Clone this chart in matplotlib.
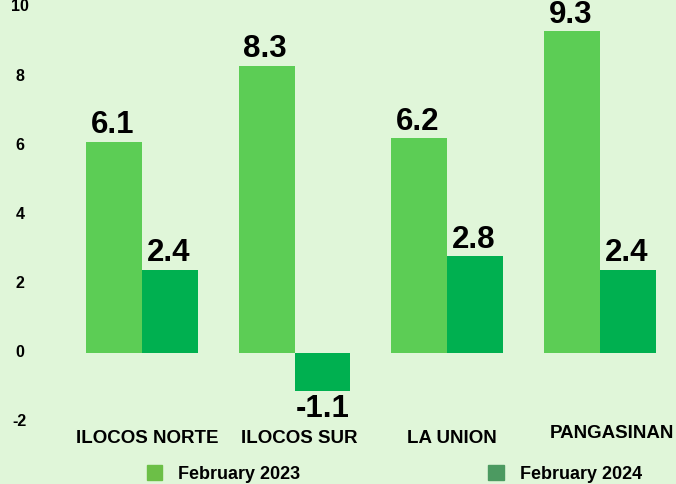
import matplotlib.pyplot as plt
from matplotlib.patches import Patch
import numpy as np

plt.rcParams['font.family'] = ['Liberation Sans', 'DejaVu Sans']
plt.rcParams['font.weight'] = 'bold'

provinces = ['ILOCOS NORTE', 'ILOCOS SUR', 'LA UNION', 'PANGASINAN']
feb_2023 = [6.1, 8.3, 6.2, 9.3]
feb_2024 = [2.4, -1.1, 2.8, 2.4]
series_names = ['February 2023', 'February 2024']
y_ticks = [-2, 0, 2, 4, 6, 8, 10]

bg = '#e0f6d9'
light = '#5ccd55'
dark = '#00b050'

fig = plt.figure(figsize=(6.76, 4.84), dpi=100, facecolor=bg)
ax = fig.add_axes([0.0, 0.114, 1.0, 0.886], facecolor=bg)

x = np.arange(len(provinces))
w = 0.366
b1 = ax.bar(x - w / 2, feb_2023, w, color=light)
b2 = ax.bar(x + w / 2, feb_2024, w, color=dark)

# value labels above / below bars
for bars, vals in ((b1, feb_2023), (b2, feb_2024)):
    for r, v in zip(bars, vals):
        cx = r.get_x() + r.get_width() / 2
        if v >= 0:
            ax.annotate(f'{v:.1f}', (cx, v), xytext=(-1, 6), textcoords='offset points',
                        ha='center', va='baseline', fontsize=22.5, fontweight='bold',
                        annotation_clip=False)
        else:
            ax.annotate(f'{v:.1f}', (cx, v), xytext=(0, -2), textcoords='offset points',
                        ha='center', va='top', fontsize=22.5, fontweight='bold')

ax.set_xlim(-0.93, 3.5)
ax.set_ylim(-2.2, 10.2)
ax.set_xticks([])
ax.set_yticks([])

# category names under the groups (PANGASINAN sits a bit higher/right in the original)
trans = ax.get_xaxis_transform()
for i, name in enumerate(provinces):
    dx, dy = (9, 4) if name == 'PANGASINAN' else (3.5, 0)
    ax.annotate(name, (x[i], 0), xycoords=trans, xytext=(dx, dy - 1),
                textcoords='offset points', ha='center', va='top',
                fontsize=13.5, fontweight='bold', annotation_clip=False)

for t in y_ticks:
    ax.text(-0.80, t, str(t), ha='center', va='center', fontsize=11.5, fontweight='bold')
for s in ax.spines.values():
    s.set_visible(False)

handles = [Patch(color='#6cbf47'), Patch(color='#4c9a61')]
fig.legend(handles, series_names, loc='lower left', bbox_to_anchor=(0.193, -0.031),
           ncol=2, frameon=False, columnspacing=10.4,
           handlelength=0.85, handleheight=0.85, handletextpad=0.9,
           prop={'weight': 'bold', 'size': 13})

fig.savefig('out.png', dpi=100, facecolor=bg)
